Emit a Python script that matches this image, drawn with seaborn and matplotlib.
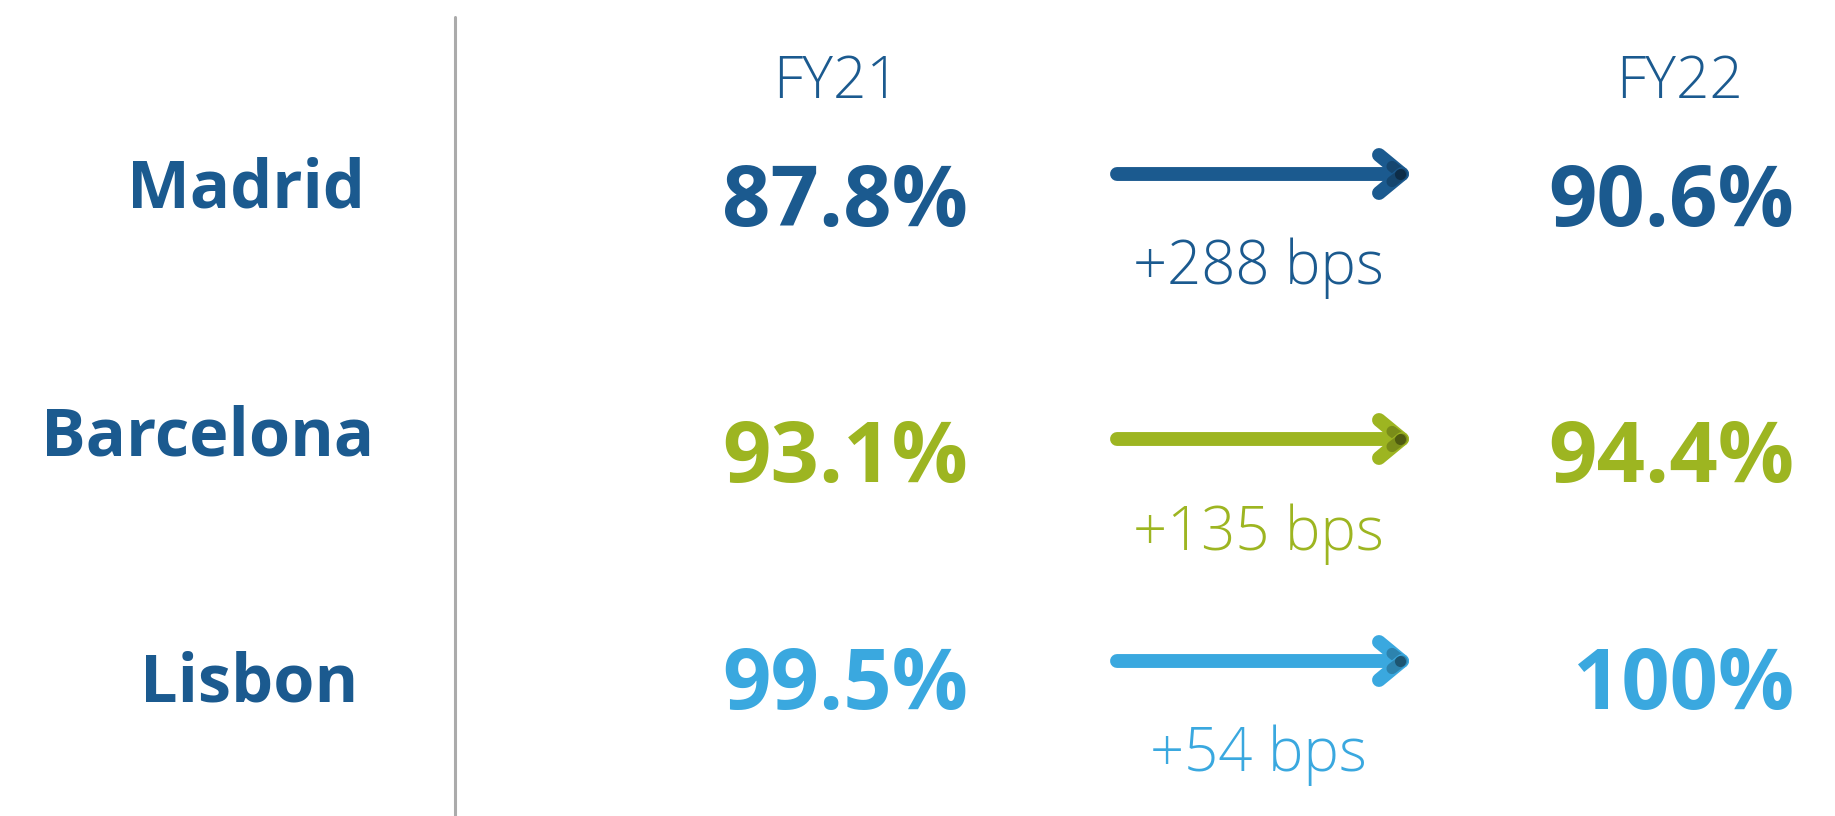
import matplotlib
matplotlib.use("Agg")
import matplotlib.pyplot as plt
import seaborn as sns
import pandas as pd

# data
cities = ["Madrid", "Barcelona", "Lisbon"]
fy21 = ["87.8%", "93.1%", "99.5%"]
fy22 = ["90.6%", "94.4%", "100%"]
change = ["+288 bps", "+135 bps", "+54 bps"]
years = ["FY21", "FY22"]
colors = ["#1B5A8F", "#9DB521", "#3AA8DF"]
label_color = "#1B5A8F"

# layout (pixel coordinates, y down)
W, H = 1835, 816
city_x = [246, 208, 249]
city_base = [208, 456, 701]
val_base = [226, 482, 709]
arrow_y = [174, 439, 661]
bps_base = [284, 550, 771]

sns.set_theme(style="white")
plt.rcParams["font.family"] = ["Open Sans", "DejaVu Sans"]

fig = plt.figure(figsize=(W / 100, H / 100), dpi=100)
ax = fig.add_axes([0, 0, 1, 1])
ax.set_xlim(0, W)
ax.set_ylim(H, 0)
ax.axis("off")

# divider
ax.plot([455, 455], [17, H], color="#ABABAB", lw=2.2)

# column headers
for x, t in zip([836, 1679], years):
    ax.text(x, 98, t, ha="center", va="baseline", fontsize=42,
            fontweight="light", color=label_color)

for i, city in enumerate(cities):
    c = colors[i]
    ax.text(city_x[i], city_base[i], city, ha="center", va="baseline",
            fontsize=48, fontweight="bold", color=label_color)
    ax.text(968, val_base[i], fy21[i], ha="right", va="baseline",
            fontsize=61, fontweight="bold", color=c)
    ax.text(1794, val_base[i], fy22[i], ha="right", va="baseline",
            fontsize=61, fontweight="bold", color=c)

    # arrow: shaft + two head strokes, darker where they overlap
    y = arrow_y[i]
    shaft = pd.DataFrame({"x": [1117, 1401], "y": [y, y]})
    sns.lineplot(data=shaft, x="x", y="y", ax=ax, color=c, lw=10,
                 solid_capstyle="round", legend=False)
    for dy in (-19, 19):
        ax.plot([1379, 1402], [y + dy, y], color=c, lw=10,
                solid_capstyle="round")
        ax.plot([1392, 1402], [y + dy * 0.4, y], color="black", lw=8,
                solid_capstyle="round", alpha=0.22)
    ax.plot([1400], [y], marker="o", ms=8, color="black", alpha=0.35, mew=0)

    ax.text(1258, bps_base[i], change[i], ha="center", va="baseline",
            fontsize=43, fontweight="light", color=c)

fig.savefig("out.png", dpi=100, facecolor="white")
